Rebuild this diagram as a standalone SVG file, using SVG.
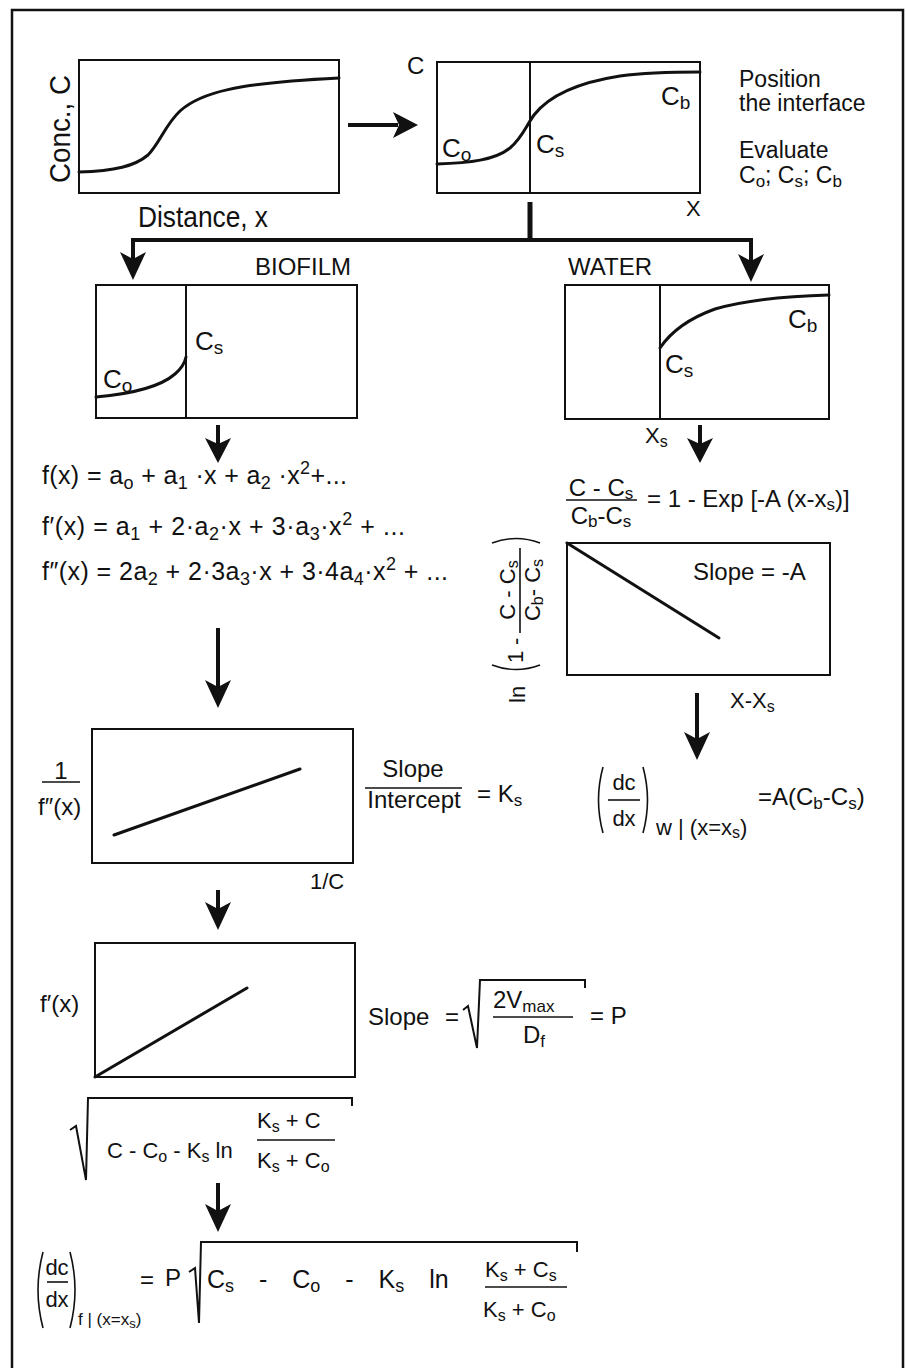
<svg xmlns="http://www.w3.org/2000/svg" width="906" height="1368" viewBox="0 0 906 1368">
<style>
.box{fill:none;stroke:#111;stroke-width:2}
.cur{fill:none;stroke:#111;stroke-width:3;stroke-linecap:round}
.thin{fill:none;stroke:#111;stroke-width:1.6}
.t{font-family:"Liberation Sans",Arial,sans-serif;fill:#111;font-size:24px}
.m{font-family:"Liberation Sans",Arial,sans-serif;fill:#111;font-size:22px}
.lab{font-family:"Liberation Sans",Arial,sans-serif;fill:#111;font-size:26px}
.mid{text-anchor:middle}
.conn{stroke:#111;stroke-width:4;fill:none}
.head{fill:#111;stroke:none}
</style>
<rect width="906" height="1368" fill="#fff"/>
<path d="M12,1380 L12,10 L903,10 L903,1380" fill="none" stroke="#111" stroke-width="2.5"/>

<g id="plot-conc">
<rect class="box" x="79" y="60" width="260" height="133"/>
<path class="cur" d="M79,172 C115,171 135,166 148,155 C160,143 165,125 180,111 C200,93 235,83 339,78"/>
<text class="t" transform="translate(70,129) rotate(-90)" text-anchor="middle" style="font-size:29px" textLength="108" lengthAdjust="spacingAndGlyphs">Conc., C</text>
<text class="t" x="138" y="227" style="font-size:29px" textLength="130" lengthAdjust="spacingAndGlyphs">Distance, x</text>
</g>

<g id="plot-interface">
<rect class="box" x="437" y="62" width="263" height="131"/>
<line class="box" x1="530" y1="62" x2="530" y2="193"/>
<path class="cur" d="M437,164 C470,163 495,160 510,148 C522,138 526,126 534,115 C548,97 575,83 620,76 C650,72 680,72 700,72"/>
<text class="t" x="407" y="74">C</text>
<text class="lab" x="442" y="157">C<tspan font-size="19" dy="4">o</tspan></text>
<text class="lab" x="536" y="153">C<tspan font-size="19" dy="4">s</tspan></text>
<text class="lab" x="661" y="105">C<tspan font-size="19" dy="4">b</tspan></text>
<text class="m" x="686" y="216">X</text>
</g>

<g id="note">
<text class="t" x="739" y="87" style="font-size:23px">Position</text>
<text class="t" x="739" y="111" style="font-size:23px">the interface</text>
<text class="t" x="739" y="158" style="font-size:23px">Evaluate</text>
<text class="t" x="739" y="183" style="font-size:23px">C<tspan font-size="17" dy="4">o</tspan><tspan dy="-4">; C</tspan><tspan font-size="17" dy="4">s</tspan><tspan dy="-4">; C</tspan><tspan font-size="17" dy="4">b</tspan></text>
</g>

<g id="plot-biofilm">
<text class="t" x="255" y="275">BIOFILM</text>
<rect class="box" x="96" y="285" width="261" height="133"/>
<line class="box" x1="186" y1="285" x2="186" y2="418"/>
<path class="cur" d="M96,397 C130,394 160,387 175,374 C182,368 185,362 186,357"/>
<text class="lab" x="195" y="350">C<tspan font-size="19" dy="4">s</tspan></text>
<text class="lab" x="103" y="388">C<tspan font-size="19" dy="4">o</tspan></text>
</g>

<g id="plot-water">
<text class="t" x="568" y="275">WATER</text>
<rect class="box" x="565" y="285" width="264" height="134"/>
<line class="box" x1="660" y1="285" x2="660" y2="419"/>
<path class="cur" d="M660,348 C672,330 690,318 715,309 C750,299 790,296 829,295"/>
<text class="lab" x="665" y="373">C<tspan font-size="19" dy="4">s</tspan></text>
<text class="lab" x="788" y="328">C<tspan font-size="19" dy="4">b</tspan></text>
<text class="m" x="645" y="443">X<tspan font-size="16" dy="4">s</tspan></text>
</g>

<g id="eq-poly">
<text class="t" x="42" y="484" style="font-size:25px" textLength="305">f(x) = a<tspan font-size="18" dy="5">o</tspan><tspan dy="-5"> + a</tspan><tspan font-size="18" dy="5">1</tspan><tspan dy="-5"> ·x + a</tspan><tspan font-size="18" dy="5">2</tspan><tspan dy="-5"> ·x</tspan><tspan font-size="18" dy="-10">2</tspan><tspan dy="10">+...</tspan></text>
<text class="t" x="42" y="535" style="font-size:25px" textLength="363">f′(x) = a<tspan font-size="18" dy="5">1</tspan><tspan dy="-5"> + 2·a</tspan><tspan font-size="18" dy="5">2</tspan><tspan dy="-5">·x + 3·a</tspan><tspan font-size="18" dy="5">3</tspan><tspan dy="-5">·x</tspan><tspan font-size="18" dy="-10">2</tspan><tspan dy="10"> + ...</tspan></text>
<text class="t" x="42" y="580" style="font-size:25px" textLength="406">f″(x) = 2a<tspan font-size="18" dy="5">2</tspan><tspan dy="-5"> + 2·3a</tspan><tspan font-size="18" dy="5">3</tspan><tspan dy="-5">·x + 3·4a</tspan><tspan font-size="18" dy="5">4</tspan><tspan dy="-5">·x</tspan><tspan font-size="18" dy="-10">2</tspan><tspan dy="10"> + ...</tspan></text>
</g>

<g id="eq-water">
<text class="t mid" x="601" y="496">C - C<tspan font-size="17" dy="3">s</tspan></text>
<line class="thin" x1="566" y1="500" x2="637" y2="500"/>
<text class="t mid" x="601" y="524">C<tspan font-size="17" dy="3">b</tspan><tspan dy="-3">-C</tspan><tspan font-size="17" dy="3">s</tspan></text>
<text class="t" x="647" y="507">= 1 - Exp [-A (x-x<tspan font-size="17" dy="3">s</tspan><tspan dy="-3">)]</tspan></text>
</g>

<g id="plot-ln">
<rect class="box" x="567" y="543" width="263" height="132"/>
<line class="cur" x1="567" y1="543" x2="719" y2="638"/>
<text class="t" x="693" y="580">Slope = -A</text>
<g transform="translate(520,705) rotate(-90)">
<text class="m" x="2" y="5">ln</text>
<path class="thin" d="M40,-28 Q31,-4 40,20"/>
<text class="m" x="42" y="3">1</text>
<text class="m" x="60" y="3">-</text>
<line class="thin" x1="72" y1="0" x2="157" y2="0"/>
<text class="m mid" x="115" y="-5">C - C<tspan font-size="16" dy="3">s</tspan></text>
<text class="m mid" x="115" y="20">C<tspan font-size="16" dy="3">b</tspan><tspan dy="-3">- C</tspan><tspan font-size="16" dy="3">s</tspan></text>
<path class="thin" d="M162,-28 Q171,-4 162,20"/>
</g>
<text class="m" x="730" y="708">X-X<tspan font-size="16" dy="4">s</tspan></text>
</g>

<g id="eq-flux-water">
<path class="thin" d="M603,767 Q594,800 603,833"/>
<text class="m mid" x="624" y="790">dc</text>
<line class="thin" x1="608" y1="800" x2="640" y2="800"/>
<text class="m mid" x="624" y="826">dx</text>
<path class="thin" d="M643,767 Q652,800 643,833"/>
<text class="m" x="656" y="835" style="font-size:22px">w | (x=x<tspan font-size="16" dy="3">s</tspan><tspan dy="-3">)</tspan></text>
<text class="t" x="758" y="805">=A(C<tspan font-size="17" dy="4">b</tspan><tspan dy="-4">-C</tspan><tspan font-size="17" dy="4">s</tspan><tspan dy="-4">)</tspan></text>
</g>

<g id="plot-inverse">
<rect class="box" x="92" y="729" width="261" height="134"/>
<line class="cur" x1="114" y1="835" x2="300" y2="769"/>
<text class="t mid" x="61" y="779">1</text>
<line class="thin" x1="42" y1="782" x2="80" y2="782"/>
<text class="t" x="38" y="815">f″(x)</text>
<text class="m" x="310" y="889">1/C</text>
</g>

<g id="eq-ks">
<text class="t mid" x="413" y="777">Slope</text>
<line class="thin" x1="365" y1="788" x2="462" y2="788"/>
<text class="t mid" x="414" y="808">Intercept</text>
<text class="t" x="477" y="802">= K<tspan font-size="17" dy="4">s</tspan></text>
</g>

<g id="plot-fprime">
<rect class="box" x="95" y="943" width="260" height="134"/>
<line class="cur" x1="95" y1="1077" x2="247" y2="988"/>
<text class="t" x="40" y="1012">f′(x)</text>
</g>

<g id="eq-p">
<text class="t" x="368" y="1025">Slope</text>
<text class="t" x="445" y="1025">=</text>
<path class="thin" style="stroke-width:2" d="M463,1010 L468,1006 L477,1048 L480,980 L585,980 L585,988"/>
<text class="t" x="493" y="1008">2V<tspan font-size="17" dy="4">max</tspan></text>
<line class="thin" x1="493" y1="1017" x2="573" y2="1017"/>
<text class="t" x="523" y="1043">D<tspan font-size="17" dy="4">f</tspan></text>
<text class="t" x="590" y="1024">= P</text>
</g>

<g id="eq-sqrt">
<path class="thin" style="stroke-width:2" d="M70,1130 L76,1126 L86,1180 L88,1098 L352,1098 L352,1106"/>
<text class="m" x="107" y="1158">C - C<tspan font-size="16" dy="4">o</tspan><tspan dy="-4"> - K</tspan><tspan font-size="16" dy="4">s</tspan><tspan dy="-4"> ln</tspan></text>
<text class="m" x="257" y="1128">K<tspan font-size="16" dy="4">s</tspan><tspan dy="-4"> + C</tspan></text>
<line class="thin" x1="257" y1="1140" x2="335" y2="1140"/>
<text class="m" x="257" y="1168">K<tspan font-size="16" dy="4">s</tspan><tspan dy="-4"> + C</tspan><tspan font-size="16" dy="4">o</tspan></text>
</g>

<g id="eq-flux-biofilm">
<path class="thin" d="M43,1252 Q33,1290 43,1328"/>
<text class="m mid" x="57" y="1275">dc</text>
<line class="thin" x1="47" y1="1282" x2="68" y2="1282"/>
<text class="m mid" x="57" y="1307">dx</text>
<path class="thin" d="M70,1252 Q80,1290 70,1328"/>
<text class="m" x="78" y="1325" style="font-size:17px">f | (x=x<tspan font-size="13" dy="3">s</tspan><tspan dy="-3">)</tspan></text>
<text class="t" x="140" y="1288">=</text>
<text class="t" x="165" y="1286">P</text>
<path class="thin" style="stroke-width:2" d="M189,1272 L195,1268 L199,1323 L201,1242 L577,1242 L577,1252"/>
<text class="t" x="207" y="1288" style="font-size:25px;word-spacing:18px">C<tspan font-size="18" dy="4">s</tspan><tspan dy="-4"> - C</tspan><tspan font-size="18" dy="4">o</tspan><tspan dy="-4"> - K</tspan><tspan font-size="18" dy="4">s</tspan><tspan dy="-4"> ln</tspan></text>
<text class="m" x="485" y="1277">K<tspan font-size="16" dy="4">s</tspan><tspan dy="-4"> + C</tspan><tspan font-size="16" dy="4">s</tspan></text>
<line class="thin" x1="485" y1="1287" x2="567" y2="1287"/>
<text class="m" x="483" y="1317">K<tspan font-size="16" dy="4">s</tspan><tspan dy="-4"> + C</tspan><tspan font-size="16" dy="4">o</tspan></text>
</g>

<g id="connectors">
<line class="conn" x1="348" y1="125" x2="398" y2="125"/>
<path class="head" d="M418,125 L393,112 L399,125 L393,138 Z"/>
<line class="conn" style="stroke-width:5" x1="530" y1="202" x2="530" y2="240"/>
<line class="conn" x1="131" y1="240" x2="753" y2="240"/>
<line class="conn" x1="133" y1="240" x2="133" y2="260"/>
<path class="head" d="M133,280 L120,252 L133,259 L146,252 Z"/>
<line class="conn" x1="751" y1="240" x2="751" y2="262"/>
<path class="head" d="M751,282 L738,254 L751,261 L764,254 Z"/>
<line class="conn" x1="218" y1="425" x2="218" y2="447"/>
<path class="head" d="M218,463 L205,438 L218,444 L231,438 Z"/>
<line class="conn" x1="700" y1="425" x2="700" y2="447"/>
<path class="head" d="M700,463 L687,438 L700,444 L713,438 Z"/>
<line class="conn" x1="218" y1="628" x2="218" y2="692"/>
<path class="head" d="M218,708 L205,680 L218,687 L231,680 Z"/>
<line class="conn" x1="218" y1="890" x2="218" y2="912"/>
<path class="head" d="M218,930 L205,902 L218,909 L231,902 Z"/>
<line class="conn" x1="218" y1="1183" x2="218" y2="1214"/>
<path class="head" d="M218,1232 L205,1204 L218,1211 L231,1204 Z"/>
<line class="conn" x1="697" y1="693" x2="697" y2="742"/>
<path class="head" d="M697,760 L684,732 L697,739 L710,732 Z"/>
</g>
</svg>
